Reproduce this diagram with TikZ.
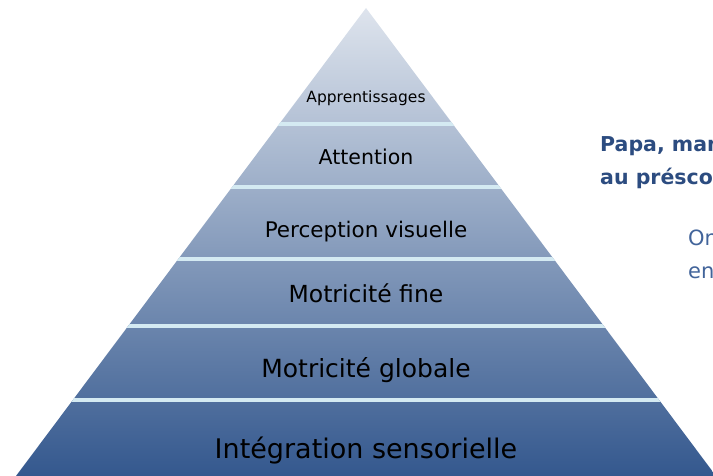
\documentclass[tikz,border=0pt]{standalone}
\RequirePackage{fontspec}
\RequirePackage{tikz}
\setmainfont{DejaVu Sans}

\definecolor{pyrtop}{RGB}{222,228,237}
\definecolor{pyrbot}{RGB}{52,88,142}
\definecolor{sepblue}{RGB}{212,234,242}
\definecolor{titleblue}{RGB}{44,76,128}
\definecolor{subblue}{RGB}{66,100,154}

\tikzset{
    level/.style={anchor=base, text=black, inner sep=0pt},
    sidetext/.style={anchor=base west, inner sep=0pt},
    sep/.style={line width=4pt, color=sepblue}
}

\begin{document}
\begin{tikzpicture}[x=1pt, y=-1pt]
        \useasboundingbox (0, 0) rectangle (713, 476);
        \clip (0, 0) rectangle (713, 476);

        \coordinate (apex) at (366, 8);
        \coordinate (baseL) at (16, 476);
        \coordinate (baseR) at (716, 476);

        \shade[top color=pyrtop, bottom color=pyrbot] (apex) -- (baseL) -- (baseR) -- cycle;

        \begin{scope}
            \clip (apex) -- (baseL) -- (baseR) -- cycle;
            \foreach \y in {124, 187, 259, 326, 400}
                \draw[sep] (0, \y) -- (713, \y);
        \end{scope}

        \node[level, font=\fontsize{15.5}{15.5}\selectfont] (appr) at (366, 103) {Apprentissages};
        \node[level, font=\fontsize{20.5}{20.5}\selectfont] (atten) at (366, 165) {Attention};
        \node[level, font=\fontsize{21.5}{21.5}\selectfont] (percep) at (366, 238) {Perception visuelle};
        \node[level, font=\fontsize{23.5}{23.5}\selectfont] (motfine) at (366, 302) {Motricité fine};
        \node[level, font=\fontsize{25}{25}\selectfont] (motglob) at (366, 377) {Motricité globale};
        \node[level, font=\fontsize{27}{27}\selectfont] (integ) at (366, 458) {Intégration sensorielle};

        \node[sidetext, text=titleblue, font=\bfseries\fontsize{20.5}{20.5}\selectfont] (papa) at (600, 152) {Papa, mam};
        \node[sidetext, text=titleblue, font=\bfseries\fontsize{20.5}{20.5}\selectfont] (presco) at (600, 185) {au présco};
        \node[sidetext, text=subblue, font=\fontsize{21}{21}\selectfont] (on) at (688, 246) {On};
        \node[sidetext, text=subblue, font=\fontsize{21}{21}\selectfont] (en) at (688, 279) {en};
    \end{tikzpicture}
\end{document}
